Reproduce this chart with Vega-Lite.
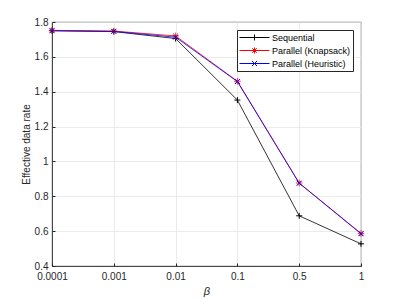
{
  "$schema": "https://vega.github.io/schema/vega-lite/v6.json",
  "width": 309,
  "height": 244,
  "autosize": {"type": "none"},
  "padding": {"left": 52, "top": 22, "right": 38, "bottom": 33},
  "config": {
    "font": "Liberation Sans",
    "view": {"stroke": "#262626", "strokeWidth": 0.8},
    "axis": {
      "domainColor": "#262626",
      "domainWidth": 0.8,
      "tickColor": "#262626",
      "tickSize": -3,
      "gridColor": "#e6e6e6",
      "gridWidth": 0.8,
      "labelFont": "Liberation Sans",
      "labelFontSize": 10,
      "labelColor": "#262626",
      "titleFont": "Liberation Sans",
      "titleFontWeight": "normal",
      "titleColor": "#262626"
    }
  },
  "data": {
    "values": [
      {"beta": "0.0001", "series": "Sequential", "rate": 1.75},
      {"beta": "0.001", "series": "Sequential", "rate": 1.745},
      {"beta": "0.01", "series": "Sequential", "rate": 1.705},
      {"beta": "0.1", "series": "Sequential", "rate": 1.352},
      {"beta": "0.5", "series": "Sequential", "rate": 0.688},
      {"beta": "1", "series": "Sequential", "rate": 0.527},
      {"beta": "0.0001", "series": "Parallel (Knapsack)", "rate": 1.752},
      {"beta": "0.001", "series": "Parallel (Knapsack)", "rate": 1.748},
      {"beta": "0.01", "series": "Parallel (Knapsack)", "rate": 1.72},
      {"beta": "0.1", "series": "Parallel (Knapsack)", "rate": 1.46},
      {"beta": "0.5", "series": "Parallel (Knapsack)", "rate": 0.876},
      {"beta": "1", "series": "Parallel (Knapsack)", "rate": 0.587},
      {"beta": "0.0001", "series": "Parallel (Heuristic)", "rate": 1.75},
      {"beta": "0.001", "series": "Parallel (Heuristic)", "rate": 1.746},
      {"beta": "0.01", "series": "Parallel (Heuristic)", "rate": 1.713},
      {"beta": "0.1", "series": "Parallel (Heuristic)", "rate": 1.458},
      {"beta": "0.5", "series": "Parallel (Heuristic)", "rate": 0.875},
      {"beta": "1", "series": "Parallel (Heuristic)", "rate": 0.585}
    ]
  },
  "encoding": {
    "x": {
      "field": "beta",
      "type": "ordinal",
      "sort": ["0.0001", "0.001", "0.01", "0.1", "0.5", "1"],
      "scale": {"type": "point", "padding": 0},
      "axis": {
        "title": "β",
        "titleFontStyle": "italic",
        "titleFontSize": 11,
        "titlePadding": 4,
        "labelAngle": 0,
        "labelPadding": 8,
        "grid": true
      }
    },
    "y": {
      "field": "rate",
      "type": "quantitative",
      "scale": {"domain": [0.4, 1.8], "nice": false, "zero": false},
      "axis": {
        "title": "Effective data rate",
        "titleFontSize": 10,
        "titlePadding": 3,
        "values": [0.4, 0.6, 0.8, 1, 1.2, 1.4, 1.6, 1.8],
        "format": "~g",
        "labelPadding": 7,
        "grid": true
      }
    },
    "color": {
      "field": "series",
      "type": "nominal",
      "scale": {
        "domain": ["Sequential", "Parallel (Knapsack)", "Parallel (Heuristic)"],
        "range": ["#000000", "#ff0000", "#0000ff"]
      },
      "legend": null
    }
  },
  "layer": [
    {
      "mark": {"type": "line", "strokeWidth": 0.8},
      "encoding": {
        "color": {
          "field": "series",
          "type": "nominal",
          "scale": {
            "domain": ["Sequential", "Parallel (Knapsack)", "Parallel (Heuristic)"],
            "range": ["#000000", "#ff0000", "#0000ff"]
          },
          "legend": {
            "title": null,
            "orient": "top-right",
            "offset": 8,
            "padding": 2,
            "rowPadding": 2,
            "fillColor": "#ffffff",
            "strokeColor": "#262626",
            "labelFont": "Liberation Sans",
            "labelFontSize": 9,
            "labelColor": "#000000",
            "labelOffset": 22,
            "symbolSize": 100,
            "symbolStrokeWidth": 1,
            "encode": {
              "symbols": {
                "update": {
                  "shape": {"signal": "datum.value === 'Sequential' ? 'M-1,0L5,0M1.4,0L2.6,0M2,-0.6L2,0.6' : datum.value === 'Parallel (Knapsack)' ? 'M-1,0L5,0M1.4,0L2.6,0M2,-0.6L2,0.6M1.55,-0.45L2.45,0.45M1.55,0.45L2.45,-0.45' : 'M-1,0L5,0M1.5,-0.5L2.5,0.5M1.5,0.5L2.5,-0.5'"},
                  "stroke": {"signal": "datum.value === 'Sequential' ? '#000000' : datum.value === 'Parallel (Knapsack)' ? '#ff0000' : '#0000ff'"},
                  "size": {"value": 100},
                  "fill": {"value": "transparent"},
                  "strokeWidth": {"value": 1}
                }
              }
            }
          }
        }
      }
    },
    {
      "transform": [{"filter": "datum.series === 'Sequential'"}],
      "mark": {"type": "point", "filled": false, "size": 36, "strokeWidth": 1, "opacity": 1, "shape": "M-1,0L1,0M0,-1L0,1"}
    },
    {
      "transform": [{"filter": "datum.series === 'Parallel (Knapsack)'"}],
      "mark": {"type": "point", "filled": false, "size": 36, "strokeWidth": 1, "opacity": 0.8, "shape": "M-1.1,0L1.1,0M0,-1.1L0,1.1M-0.8,-0.8L0.8,0.8M-0.8,0.8L0.8,-0.8"}
    },
    {
      "transform": [{"filter": "datum.series === 'Parallel (Heuristic)'"}],
      "mark": {"type": "point", "filled": false, "size": 36, "strokeWidth": 1, "opacity": 1, "shape": "M-0.8,-0.8L0.8,0.8M-0.8,0.8L0.8,-0.8"}
    }
  ]
}
